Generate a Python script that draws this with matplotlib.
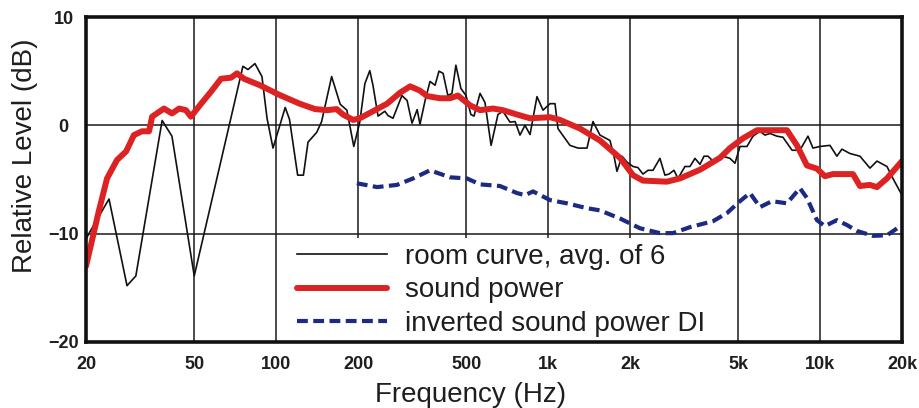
import matplotlib
matplotlib.use("Agg")
import matplotlib.pyplot as plt

plt.rcParams['font.family'] = ['Liberation Sans', 'DejaVu Sans']

# room curve, avg. of 6 (Hz, dB)
room_f = [20, 20.7, 24.3, 28.3, 30.5, 38.1, 41.4, 50, 75.5, 78.8, 83.6, 88.7,
          92.6, 97.4, 108, 112, 120, 126, 131, 141, 147, 160, 172, 182, 193,
          203, 212, 221, 227, 237, 251, 258, 269, 290, 303, 316, 330, 338, 353,
          368, 384, 397, 411, 428, 443, 458, 478, 499, 520, 534, 562, 586, 617,
          654, 682, 724, 756, 788, 822, 858, 910, 958, 1016, 1060, 1087, 1203,
          1288, 1390, 1462, 1551, 1632, 1688, 1747, 1791, 1869, 1950, 2051,
          2139, 2232, 2329, 2430, 2577, 2688, 2781, 2902, 3002, 3185, 3323,
          3467, 3616, 3742, 3871, 4037, 4176, 4394, 4662, 4864, 5074, 5383,
          5664, 6010, 6268, 6540, 6938, 7300, 7886, 8426, 9022, 9412, 9985,
          10868, 11524, 12026, 12870, 14010, 15250, 16180, 17610, 18520, 20000]
room_db = [-10.5, -9.8, -6.8, -14.8, -13.9, 0.45, -1.0, -13.9, 5.45, 5.15, 5.7,
           4.5, 0.65, -2.1, 1.65, 0.55, -4.6, -4.6, -1.55, -0.65, 0.35, 4.5,
           1.95, 1.4, -1.95, 0.3, 3.85, 5.05, 3.7, 0.85, 1.3, 0.9, 0.65, 2.75,
           2.3, 0.2, 1.45, 0.1, 2.3, 4.05, 3.7, 5.0, 4.8, 2.75, 2.95, 5.55, 3.4,
           2.75, 1.0, 0.85, 2.95, 2.1, -1.85, 1.0, 1.3, 0.3, 0.35, -0.9, 0.0,
           -0.85, 2.65, 1.4, 2.0, 2.0, -0.3, -1.85, -2.1, -2.1, 0.35, -0.9,
           -1.2, -1.4, -2.85, -4.25, -2.85, -3.4, -3.8, -3.9, -4.5, -4.15,
           -4.15, -3.05, -4.6, -4.5, -4.15, -4.9, -3.8, -3.8, -3.05, -3.6,
           -2.85, -2.85, -3.3, -3.05, -2.85, -3.05, -3.5, -1.95, -1.95, -1.0,
           -0.55, -0.9, -0.75, -1.0, -1.1, -2.3, -2.3, -1.0, -2.1, -1.95,
           -1.85, -2.85, -2.2, -2.6, -2.85, -3.95, -3.3, -3.8, -4.9, -6.45]

# sound power
sp_f = [20, 22.3, 23.9, 26.0, 28.1, 30.0, 32.1, 34.1, 35.0, 38.7, 41.4, 44.0,
        46.6, 48.6, 53.0, 57.6, 62.7, 68.3, 71.8, 76.2, 87.2, 103, 122, 139,
        154, 167, 176, 192, 203, 227, 256, 285, 311, 338, 359, 400, 436, 466,
        516, 562, 627, 682, 768, 858, 1016, 1106, 1310, 1551, 1837, 2051, 2232,
        2734, 3052, 3616, 4284, 4662, 5204, 5860, 6540, 7552, 8220, 8940, 9734,
        10412, 11140, 13200, 14010, 15250, 16180, 17610, 20000]
sp_db = [-13.0, -7.9, -4.9, -3.2, -2.4, -0.9, -0.55, -0.55, 0.8, 1.55, 1.1,
         1.55, 1.4, 0.8, 2.0, 3.1, 4.3, 4.4, 4.8, 4.3, 3.7, 2.8, 2.0, 1.5, 1.4,
         1.5, 1.0, 0.5, 0.65, 1.3, 2.0, 3.0, 3.6, 3.2, 2.7, 2.5, 2.5, 2.75,
         1.85, 1.4, 1.55, 1.4, 1.0, 0.65, 0.75, 0.5, -0.3, -1.4, -3.0, -4.6,
         -5.1, -5.2, -4.9, -4.1, -3.0, -2.1, -1.2, -0.45, -0.45, -0.45, -1.85,
         -3.7, -4.0, -4.7, -4.5, -4.5, -5.6, -5.5, -5.7, -4.9, -3.3]

# inverted sound power DI
di_f = [198, 235, 278, 319, 368, 436, 503, 562, 665, 768, 822, 880, 1016,
        1173, 1390, 1551, 1837, 2176, 2577, 2877, 3323, 4037, 4545, 5074, 5522,
        6010, 6652, 7552, 8426, 8940, 9734, 10412, 11524, 12546, 13652, 15638,
        17610, 20000]
di_db = [-5.35, -5.7, -5.5, -4.9, -4.15, -4.8, -4.9, -5.45, -5.6, -6.25, -6.45,
         -6.1, -6.9, -7.2, -7.65, -7.85, -8.6, -9.5, -9.95, -9.95, -9.4, -8.85,
         -8.1, -7.0, -6.25, -7.55, -7.0, -7.2, -5.8, -6.7, -8.75, -9.3, -8.75,
         -9.2, -9.75, -10.2, -10.15, -9.2]

x_ticks = [20, 50, 100, 200, 500, 1000, 2000, 5000, 10000, 20000]
x_labels = ['20', '50', '100', '200', '500', '1k', '2k', '5k', '10k', '20k']
y_ticks = [-20, -10, 0, 10]
y_labels = ['\u221220', '\u221210', '0', '10']

txt = '#1e1e1e'

fig = plt.figure(figsize=(9.19, 4.08), dpi=100)
ax = fig.add_axes([86 / 919, 1 - 342 / 408, 816 / 919, 325 / 408])

ax.plot(room_f, room_db, color='#111111', lw=1.2, label='room curve, avg. of 6', zorder=3)
ax.plot(sp_f, sp_db, color='#dc2222', lw=4.3, solid_capstyle='round',
        solid_joinstyle='round', label='sound power', zorder=4)
ax.plot(di_f, di_db, color='#1c2a82', lw=3.0, dashes=(2.6, 1.3),
        label='inverted sound power DI', zorder=4)

ax.set_xscale('log')
ax.set_xlim(20, 20000)
ax.set_ylim(-20, 10)
ax.set_xticks(x_ticks)
ax.set_xticklabels(x_labels)
ax.xaxis.set_minor_locator(matplotlib.ticker.NullLocator())
ax.set_yticks(y_ticks)
ax.set_yticklabels(y_labels, ha='center')
ax.tick_params(length=0, labelsize=13, labelcolor=txt)
ax.tick_params(axis='x', pad=10)
ax.tick_params(axis='y', pad=16)
for lab in ax.get_xticklabels() + ax.get_yticklabels():
    lab.set_fontweight('bold')

ax.grid(True, color='#1a1a1a', lw=1.1)
for s in ax.spines.values():
    s.set_linewidth(2.6)
    s.set_color('#111111')
    s.set_zorder(6)

fig.text(25 / 919, 1 - 156 / 408, 'Relative Level (dB)', rotation=90,
         ha='center', va='center', fontsize=20, color=txt)
fig.text(471 / 919, 1 - 395 / 408, 'Frequency (Hz)', ha='center', va='center',
         fontsize=20, color=txt)

leg = ax.legend(loc='upper left', bbox_to_anchor=((291 - 86) / 816, (342 - 238) / 325),
                fontsize=20, frameon=True, fancybox=False, framealpha=1,
                facecolor='white', edgecolor='none', borderpad=0.2, borderaxespad=0,
                handlelength=3.24, handletextpad=0.68, labelspacing=0.28)
for t in leg.get_texts():
    t.set_color(txt)

fig.savefig('out.png', dpi=100)
